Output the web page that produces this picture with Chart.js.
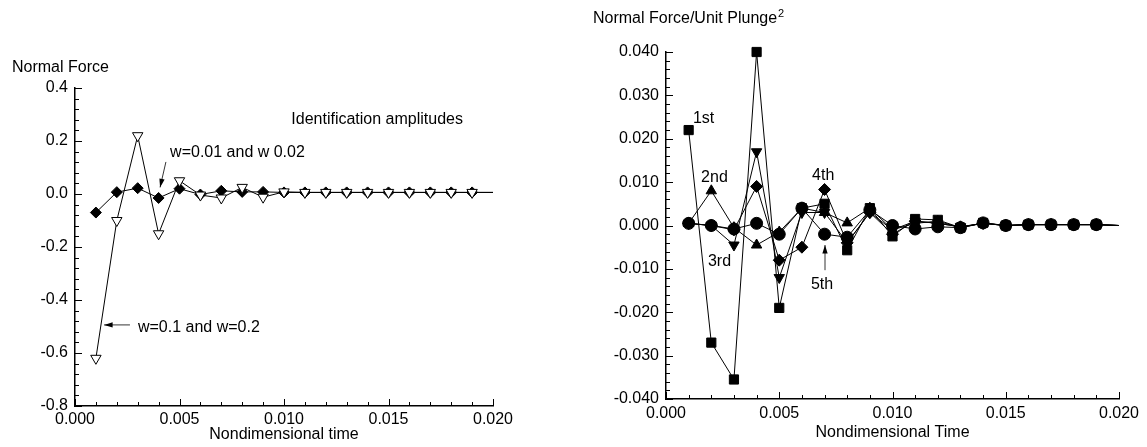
<!DOCTYPE html>
<html>
<head>
<meta charset="utf-8">
<script src="https://cdn.jsdelivr.net/npm/chart.js@4.4.1/dist/chart.umd.min.js"></script>
<style>
  body { margin: 0; background: #fff; }
  #left { position: absolute; left: 0; top: 0; }
  #right { position: absolute; left: 540px; top: 0; }
</style>
</head>
<body>
<canvas id="left" width="530" height="447"></canvas>
<canvas id="right" width="607" height="447"></canvas>
<script>
// nondimensional time samples (last one only carries the line to the axis end)
const time = [0.001, 0.002, 0.003, 0.004, 0.005, 0.006, 0.007, 0.008, 0.009, 0.010,
              0.011, 0.012, 0.013, 0.014, 0.015, 0.016, 0.017, 0.018, 0.019, 0.020];

// left plot: normal force
const smallAmp = [-0.07, 0.007, 0.022, -0.015, 0.02, -0.002, 0.012, 0.008, 0.008, 0.006,
                  0.006, 0.006, 0.006, 0.006, 0.006, 0.006, 0.006, 0.006, 0.006, 0.006];
const largeAmp = [-0.62, -0.10, 0.22, -0.15, 0.05, -0.004, -0.015, 0.025, -0.012, 0.008,
                  0.006, 0.006, 0.006, 0.006, 0.006, 0.006, 0.006, 0.006, 0.006, 0.006];

// right plot: normal force / unit plunge^2
const first  = [0.022, -0.027, -0.0355, 0.040, -0.019, 0.004, 0.005, -0.0057, 0.004, -0.0025,
                0.0015, 0.0013, -0.0005, 0.0006, 0, 0.0002, 0.0002, 0.0002, 0.0002, 0];
const second = [0.0005, 0.008, -0.0005, -0.0045, -0.0015, 0.004, 0.003, 0.0006, 0.004, -0.001,
                0.0005, 0.001, -0.0005, 0.0005, 0, 0.0002, 0.0002, 0.0002, 0.0002, 0];
const third  = [0.0005, 0, -0.0045, 0.017, -0.012, 0.003, 0.003, -0.004, 0.003, -0.001,
                0.001, 0.0005, -0.0003, 0.0005, 0, 0.0002, 0.0002, 0.0002, 0.0002, 0];
const fourth = [0.0005, 0, -0.001, 0.009, -0.008, -0.005, 0.0083, -0.004, 0.003, -0.002,
                0.001, 0.0005, -0.0003, 0.0005, 0, 0.0002, 0.0002, 0.0002, 0.0002, 0];
const fifth  = [0.0005, 0, -0.0008, 0.0005, -0.002, 0.004, -0.002, -0.0027, 0.0036, 0,
                -0.0008, -0.0003, -0.0005, 0.0006, 0, 0.0002, 0.0002, 0.0002, 0.0002, 0];

const leftTicks = [-0.8, -0.6, -0.4, -0.2, 0.0, 0.2, 0.4];
const rightTicks = [-0.040, -0.030, -0.020, -0.010, 0.000, 0.010, 0.020, 0.030, 0.040];

Chart.defaults.font.family = '"Liberation Sans", Arial, sans-serif';
Chart.defaults.font.size = 16;
Chart.defaults.color = '#000';

const pts = ys => time.map((t, i) => ({ x: t, y: ys[i] }));
const lastHidden = r => ctx => ctx.dataIndex === time.length - 1 ? 0 : r;

function series(ys, style, r, fill, rot) {
  return {
    data: pts(ys),
    clip: false,
    borderColor: '#000',
    borderWidth: 1,
    tension: 0,
    pointStyle: style,
    pointRadius: lastHidden(r),
    pointRotation: rot || 0,
    pointBackgroundColor: fill,
    pointBorderColor: '#000',
    pointBorderWidth: 1
  };
}

// inward tick marks, axis titles, labels and arrows
const decor = {
  id: 'decor',
  afterDraw(chart, args, o) {
    const ctx = chart.ctx, a = chart.chartArea;
    const xs = chart.scales.x, ys = chart.scales.y;
    ctx.save();
    ctx.strokeStyle = '#000';
    ctx.lineWidth = 1;
    ctx.beginPath();
    const nx = Math.round((xs.max - xs.min) / o.xMinor);
    for (let k = 0; k <= nx; k++) {
      const px = Math.round(xs.getPixelForValue(xs.min + k * o.xMinor)) + 0.5;
      const len = k % 5 === 0 ? 7 : 4;
      ctx.moveTo(px, a.bottom); ctx.lineTo(px, a.bottom - len);
    }
    const ny = Math.round((ys.max - ys.min) / o.yMinor);
    for (let k = 0; k <= ny; k++) {
      const py = Math.round(ys.getPixelForValue(ys.min + k * o.yMinor)) + 0.5;
      const len = k % 5 === 0 ? 7 : 4;
      ctx.moveTo(a.left, py); ctx.lineTo(a.left + len, py);
    }
    ctx.stroke();

    ctx.fillStyle = '#000';
    ctx.font = '16px "Liberation Sans", Arial, sans-serif';
    ctx.textBaseline = 'middle';
    ctx.textAlign = 'center';
    ctx.fillText(o.xTitle, (a.left + a.right) / 2, a.bottom + o.xTitleGap);
    ctx.textAlign = 'left';
    ctx.fillText(o.yTitle, a.left + o.yTitleDx, a.top + o.yTitleDy);
    if (o.yTitleSup) {
      const w = ctx.measureText(o.yTitle).width;
      ctx.font = '11px "Liberation Sans", Arial, sans-serif';
      ctx.fillText(o.yTitleSup, a.left + o.yTitleDx + w + 1, a.top + o.yTitleDy - 5);
      ctx.font = '16px "Liberation Sans", Arial, sans-serif';
    }
    o.notes.forEach(n => {
      ctx.fillText(n.text, xs.getPixelForValue(n.x), ys.getPixelForValue(n.y));
    });
    o.arrows.forEach(ar => {
      const x1 = xs.getPixelForValue(ar.from[0]), y1 = ys.getPixelForValue(ar.from[1]);
      const x2 = xs.getPixelForValue(ar.to[0]), y2 = ys.getPixelForValue(ar.to[1]);
      ctx.lineWidth = 0.8;
      ctx.beginPath(); ctx.moveTo(x1, y1); ctx.lineTo(x2, y2); ctx.stroke();
      const ang = Math.atan2(y2 - y1, x2 - x1);
      ctx.beginPath();
      ctx.moveTo(x2, y2);
      ctx.lineTo(x2 - 9 * Math.cos(ang - 0.3), y2 - 9 * Math.sin(ang - 0.3));
      ctx.lineTo(x2 - 9 * Math.cos(ang + 0.3), y2 - 9 * Math.sin(ang + 0.3));
      ctx.closePath(); ctx.fill();
    });
    ctx.restore();
  }
};

function axes(yMin, yMax, yStep, yDigits, yWidth, xHeight, xPad) {
  return {
    x: {
      type: 'linear', min: 0, max: 0.02,
      grid: { display: false, drawTicks: false },
      border: { display: true, color: '#000', width: 1.5 },
      ticks: { stepSize: 0.005, padding: xPad, autoSkip: false, maxRotation: 0,
               callback: v => v.toFixed(3) },
      afterFit: s => { s.height = xHeight; }
    },
    y: {
      type: 'linear', min: yMin, max: yMax,
      grid: { display: false, drawTicks: false },
      border: { display: true, color: '#000', width: 1.5 },
      ticks: { stepSize: yStep, padding: 7, callback: v => v.toFixed(yDigits) },
      afterFit: s => { s.width = yWidth; }
    }
  };
}

new Chart(document.getElementById('left'), {
  type: 'line',
  data: {
    datasets: [
      series(largeAmp, 'triangle', 6, '#fff', 180),
      series(smallAmp, 'rectRot', 5.5, '#000')
    ]
  },
  options: {
    responsive: false,
    animation: false,
    layout: { padding: { top: 88, right: 37, left: 0, bottom: 0 } },
    scales: axes(leftTicks[0], leftTicks[leftTicks.length - 1], 0.2, 1, 75, 41, 4),
    plugins: {
      legend: { display: false },
      tooltip: { enabled: false },
      decor: {
        xMinor: 0.001, yMinor: 0.04,
        xTitle: 'Nondimensional time', xTitleGap: 29,
        yTitle: 'Normal Force', yTitleDx: -63, yTitleDy: -20,
        notes: [
          { text: 'Identification amplitudes', x: 0.01035, y: 0.279 },
          { text: 'w=0.01 and w 0.02', x: 0.00455, y: 0.158 },
          { text: 'w=0.1 and w=0.2', x: 0.00301, y: -0.506 }
        ],
        arrows: [
          { from: [0.00435, 0.121], to: [0.00407, 0.025] },
          { from: [0.00263, -0.494], to: [0.00139, -0.494] }
        ]
      }
    }
  },
  plugins: [decor]
});

new Chart(document.getElementById('right'), {
  type: 'line',
  data: {
    datasets: [
      series(fifth, 'circle', 6, '#000'),
      series(fourth, 'rectRot', 6, '#000'),
      series(third, 'triangle', 6, '#000', 180),
      series(second, 'triangle', 6, '#000'),
      series(first, 'rect', 6.5, '#000')
    ]
  },
  options: {
    responsive: false,
    animation: false,
    layout: { padding: { top: 52, right: 28, left: 0, bottom: 0 } },
    scales: axes(rightTicks[0], rightTicks[rightTicks.length - 1], 0.01, 3, 126, 48, 5),
    plugins: {
      legend: { display: false },
      tooltip: { enabled: false },
      decor: {
        xMinor: 0.001, yMinor: 0.002,
        xTitle: 'Nondimensional Time', xTitleGap: 34,
        yTitle: 'Normal Force/Unit Plunge', yTitleSup: '2', yTitleDx: -73, yTitleDy: -33,
        notes: [
          { text: '1st', x: 0.00119, y: 0.0246 },
          { text: '2nd', x: 0.00155, y: 0.0110 },
          { text: '3rd', x: 0.00185, y: -0.0084 },
          { text: '4th', x: 0.00645, y: 0.0114 },
          { text: '5th', x: 0.0064, y: -0.0137 }
        ],
        arrows: [
          { from: [0.00702, -0.0103], to: [0.00702, -0.0045] }
        ]
      }
    }
  },
  plugins: [decor]
});
</script>
</body>
</html>
